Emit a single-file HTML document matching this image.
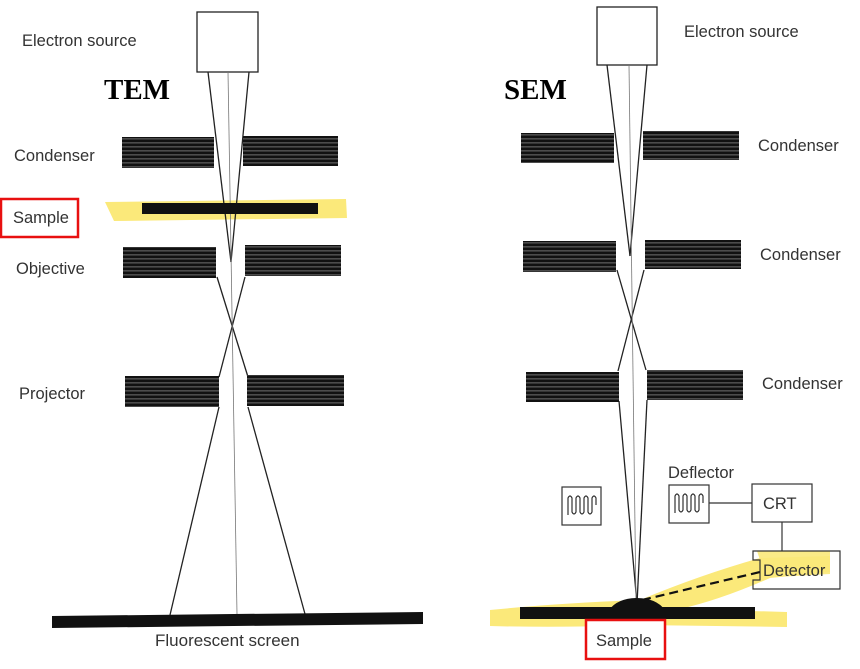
<!DOCTYPE html>
<html><head><meta charset="utf-8"><style>
html,body{margin:0;padding:0;background:#fff;}
svg{display:block;}
text{font-family:"Liberation Sans",sans-serif;fill:#333;}
</style></head><body>
<svg width="860" height="669" viewBox="0 0 860 669" xmlns="http://www.w3.org/2000/svg">
<defs>
<pattern id="coil" width="10" height="4" patternUnits="userSpaceOnUse">
<rect width="10" height="4" fill="#111"/>
<rect y="2.5" width="10" height="0.8" fill="#888"/>
</pattern>
</defs>
<path d="M105,202 L346,199 L347,218 L114,221 Z" fill="#fbe97a"/>
<path d="M490,610 Q560,603 640,600 Q700,575 760,558 L830,556 L830,572 L770,578 Q720,600 680,609 L787,612 L787,627 L640,625 Q560,628 490,626 Z" fill="#fbe97a"/>

<rect x="197" y="12" width="61" height="60" fill="#fff" stroke="#222" stroke-width="1.3"/>
<g stroke="#222" stroke-width="1.3" fill="none">
<line x1="208" y1="72" x2="231" y2="262"/>
<line x1="249" y1="72" x2="231" y2="262"/>
<line x1="217" y1="277" x2="248" y2="377"/>
<line x1="245" y1="277" x2="219" y2="377"/>
<line x1="219" y1="407" x2="170" y2="615"/>
<line x1="248" y1="407" x2="305" y2="614"/>
</g>
<line x1="228" y1="72" x2="237" y2="614" stroke="#777" stroke-width="0.8"/>
<rect x="122" y="137" width="92" height="31" fill="url(#coil)"/>
<rect x="243" y="136" width="95" height="30" fill="url(#coil)"/>
<rect x="142" y="203" width="176" height="11" fill="#111"/>
<rect x="123" y="247" width="93" height="31" fill="url(#coil)"/>
<rect x="245" y="245" width="96" height="31" fill="url(#coil)"/>
<rect x="125" y="376" width="94" height="31" fill="url(#coil)"/>
<rect x="247" y="375" width="97" height="31" fill="url(#coil)"/>
<path d="M52,616 L423,612 L423,624 L52,628 Z" fill="#111"/>

<text x="22" y="46" font-size="16.5">Electron source</text>
<text x="104" y="99" font-size="29" font-weight="bold" style="font-family:'Liberation Serif',serif;fill:#000">TEM</text>
<text x="14" y="161" font-size="16.5">Condenser</text>
<rect x="1" y="199" width="77" height="38" fill="none" stroke="#e81010" stroke-width="2.5"/>
<text x="13" y="223" font-size="16.5">Sample</text>
<text x="16" y="274" font-size="16.5">Objective</text>
<text x="19" y="399" font-size="16.5">Projector</text>
<text x="155" y="646" font-size="17">Fluorescent screen</text>

<rect x="597" y="7" width="60" height="58" fill="#fff" stroke="#222" stroke-width="1.3"/>
<g stroke="#222" stroke-width="1.3" fill="none">
<line x1="607" y1="65" x2="630" y2="256"/>
<line x1="647" y1="65" x2="630" y2="256"/>
<line x1="617" y1="270" x2="646" y2="370"/>
<line x1="644" y1="270" x2="618" y2="371"/>
<line x1="619" y1="401" x2="637" y2="604"/>
<line x1="647" y1="400" x2="637" y2="604"/>
</g>
<line x1="629" y1="65" x2="636" y2="604" stroke="#777" stroke-width="0.8"/>
<rect x="521" y="133" width="93" height="30" fill="url(#coil)"/>
<rect x="643" y="131" width="96" height="29" fill="url(#coil)"/>
<rect x="523" y="241" width="93" height="31" fill="url(#coil)"/>
<rect x="645" y="240" width="96" height="29" fill="url(#coil)"/>
<rect x="526" y="372" width="93" height="30" fill="url(#coil)"/>
<rect x="647" y="370" width="96" height="30" fill="url(#coil)"/>

<text x="684" y="37" font-size="16.5">Electron source</text>
<text x="504" y="99" font-size="29" font-weight="bold" style="font-family:'Liberation Serif',serif;fill:#000">SEM</text>
<text x="758" y="151" font-size="16.5">Condenser</text>
<text x="760" y="260" font-size="16.5">Condenser</text>
<text x="762" y="389" font-size="16.5">Condenser</text>
<text x="668" y="478" font-size="16.5">Deflector</text>

<rect x="562" y="487" width="39" height="38" fill="#fff" stroke="#333" stroke-width="1.2"/>
<path d="M568,515 L568,498 Q570,494 572,498 L572,512 Q574,516 576,512 L576,498 Q578,494 580,498 L580,512 Q582,516 584,512 L584,498 Q586,494 588,498 L588,512 Q590,516 592,512 L592,498 Q594,494 596,498 L596,505" fill="none" stroke="#333" stroke-width="1.2"/>
<rect x="669" y="485" width="40" height="38" fill="#fff" stroke="#333" stroke-width="1.2"/>
<path d="M675,513 L675,496 Q677,492 679,496 L679,510 Q681,514 683,510 L683,496 Q685,492 687,496 L687,510 Q689,514 691,510 L691,496 Q693,492 695,496 L695,510 Q697,514 699,510 L699,496 Q701,492 703,496 L703,503" fill="none" stroke="#333" stroke-width="1.2"/>
<line x1="709" y1="503" x2="752" y2="503" stroke="#333" stroke-width="1.2"/>
<rect x="752" y="484" width="60" height="38" fill="#fff" stroke="#333" stroke-width="1.2"/>
<text x="763" y="509" font-size="16.5">CRT</text>
<line x1="782" y1="522" x2="782" y2="551" stroke="#333" stroke-width="1.2"/>
<path d="M757,551 L830,551 L830,574 L760,578 L760,560 Z" fill="#fbe97a" opacity="0.9"/>
<path d="M753,551 L840,551 L840,589 L753,589 L753,580 L760,580 L760,560 L753,560 Z" fill="none" stroke="#333" stroke-width="1.2"/>
<text x="763" y="576" font-size="16.5">Detector</text>
<line x1="642" y1="600" x2="760" y2="572" stroke="#111" stroke-width="2.2" stroke-dasharray="9,5"/>

<rect x="520" y="607" width="235" height="12" fill="#111"/>
<path d="M609,610 Q618,598 637,598 Q656,598 665,610 Z" fill="#111"/>
<rect x="586" y="620" width="79" height="39" fill="#fff" stroke="#e81010" stroke-width="2.5"/>
<text x="596" y="646" font-size="16.5">Sample</text>
</svg>
</body></html>
